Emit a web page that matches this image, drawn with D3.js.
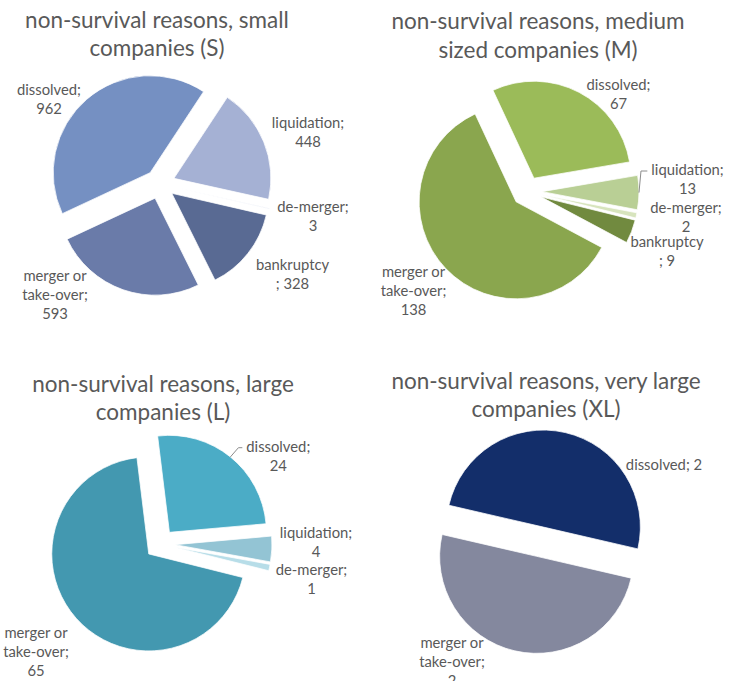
<!doctype html>
<html lang="en">
<head>
<meta charset="utf-8">
<title>non-survival reasons</title>
<script src="https://d3js.org/d3.v7.min.js"></script>
<style>
  body { margin: 0; background: #fff; }
  svg text { font-family: Lato, "Open Sans", sans-serif; fill: #595959; }
</style>
</head>
<body>
<svg id="chart" width="737" height="681"></svg>
<script>
// data
var smallCats = ["dissolved", "liquidation", "de-merger", "bankruptcy", "merger or take-over"];
var smallValues = [962, 448, 3, 328, 593];
var mediumCats = ["dissolved", "liquidation", "de-merger", "bankruptcy", "merger or take-over"];
var mediumValues = [67, 13, 2, 9, 138];
var largeCats = ["dissolved", "liquidation", "de-merger", "merger or take-over"];
var largeValues = [24, 4, 1, 65];
var xlCats = ["dissolved", "merger or take-over"];
var xlValues = [2, 2];

var smallTitle = ["non-survival reasons, small", "companies (S)"];
var mediumTitle = ["non-survival reasons, medium", "sized companies (M)"];
var largeTitle = ["non-survival reasons, large", "companies (L)"];
var xlTitle = ["non-survival reasons, very large", "companies (XL)"];

// colours
var smallColors = ["#7590c2", "#a5b1d4", "#d3daec", "#596a93", "#6a7ba9"];
var mediumColors = ["#9bbb59", "#b9cf95", "#d7e4bd", "#718a3f", "#8aa64e"];
var largeColors = ["#4bacc6", "#93c4d4", "#b7dde8", "#4398b0"];
var xlColors = ["#132e6a", "#84889e"];

var R = 97, EXPLODE = 15, LINE_H = 19;

// layout: centre, first slice angle, title spot, label offsets
var panels = [
  { cats: smallCats, vals: smallValues, colors: smallColors, title: smallTitle,
    cx: 160, cy: 184, start: -115, tx: 157, ty: 27.5,
    labels: [
      { dx: -111, dy: -89, wrap: "two" },
      { dx: 148, dy: -55.7, wrap: "two" },
      { dx: 153, dy: 27.7, wrap: "two" },
      { dx: 132.5, dy: 86, wrap: "split" },
      { dx: -105, dy: 97, wrap: "two" }
    ] },
  { cats: mediumCats, vals: mediumValues, colors: mediumColors, title: mediumTitle,
    cx: 527, cy: 191.5, start: -25, tx: 538, ty: 29,
    labels: [
      { dx: 91.5, dy: -101.5, wrap: "two" },
      { dx: 160.5, dy: -16.5, wrap: "two", leader: 2 },
      { dx: 159, dy: 21.8, wrap: "two" },
      { dx: 140, dy: 55.8, wrap: "split" },
      { dx: -113.5, dy: 85.2, wrap: "two" }
    ] },
  { cats: largeCats, vals: largeValues, colors: largeColors, title: largeTitle,
    cx: 160, cy: 544, start: -7, tx: 163, ty: 391.7,
    labels: [
      { dx: 118.3, dy: -92.3, wrap: "two", leader: 8 },
      { dx: 156, dy: -5.7, wrap: "two" },
      { dx: 151.5, dy: 31, wrap: "two" },
      { dx: -124, dy: 94.3, wrap: "two" }
    ] },
  { cats: xlCats, vals: xlValues, colors: xlColors, title: xlTitle,
    cx: 540, cy: 541.7, start: -77, tx: 546, ty: 388.5,
    labels: [
      { dx: 124, dy: -71.7, wrap: "one" },
      { dx: -88, dy: 106.6, wrap: "two" }
    ] }
];

function labelLines(cat, val, wrap) {
  if (wrap == "one") return [cat + "; " + val];
  if (wrap == "split") return [cat, "; " + val];
  var parts = cat.indexOf(" or ") > 0 ? [cat.slice(0, cat.indexOf(" or ") + 3), cat.slice(cat.indexOf(" or ") + 4)] : [cat];
  parts[parts.length - 1] += ";";
  return parts.concat([String(val)]);
}

var svg = d3.select("#chart");
var arc = d3.arc().innerRadius(0).outerRadius(R);
var rad = Math.PI / 180;

panels.forEach(function(p) {
  var g = svg.append("g").attr("transform", "translate(" + p.cx + "," + p.cy + ")");
  var a0 = p.start * rad;
  var pie = d3.pie().sort(null).startAngle(a0).endAngle(a0 + 2 * Math.PI);
  var arcs = pie(p.vals);

  g.selectAll("path")
    .data(arcs)
    .enter().append("path")
    .attr("d", arc)
    .attr("fill", function(d, i) { return p.colors[i]; })
    .attr("stroke", "#fff")
    .attr("stroke-width", 0.75)
    .attr("transform", function(d) {
      var m = (d.startAngle + d.endAngle) / 2;
      return "translate(" + (EXPLODE * Math.sin(m)) + "," + (-EXPLODE * Math.cos(m)) + ")";
    });

  // title
  var t = svg.append("text")
    .attr("x", p.tx).attr("y", p.ty)
    .attr("text-anchor", "middle")
    .style("font-size", "22.5px");
  p.title.forEach(function(s, k) {
    t.append("tspan").attr("x", p.tx).attr("dy", k ? 28.5 : 0).text(s);
  });

  // data labels
  arcs.forEach(function(d, i) {
    var L = p.labels[i];
    var lines = labelLines(p.cats[i], p.vals[i], L.wrap);
    var txt = g.append("text")
      .attr("x", L.dx).attr("y", L.dy)
      .attr("text-anchor", "middle")
      .style("font-size", "14.8px");
    lines.forEach(function(s, k) {
      txt.append("tspan").attr("x", L.dx).attr("dy", k ? LINE_H : 0).text(s);
    });
    if (L.leader) {
      var m = (d.startAngle + d.endAngle) / 2;
      var sx = (EXPLODE + R) * Math.sin(m), sy = -(EXPLODE + R) * Math.cos(m);
      var w = txt.node().getBBox();
      var ey = L.dy - 4, ex = w.x - 4;
      g.append("path")
        .attr("d", "M" + sx + "," + sy + "L" + (sx + L.leader) + "," + ey + "L" + ex + "," + ey)
        .attr("fill", "none")
        .attr("stroke", "#8c8c8c")
        .attr("stroke-width", 1);
    }
  });
});
</script>
</body>
</html>
